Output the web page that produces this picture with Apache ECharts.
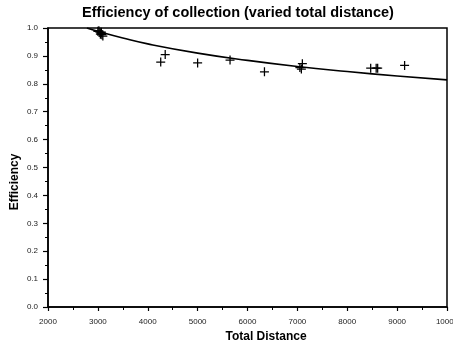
<!DOCTYPE html>
<html>
<head>
<meta charset="utf-8">
<script src="https://cdn.jsdelivr.net/npm/echarts@6/dist/echarts.min.js"></script>
<style>
  html, body { margin: 0; padding: 0; background: #fff; }
  #chart { width: 453px; height: 349px; }
</style>
</head>
<body>
<div id="chart"></div>
<script>
// Measured runs: total distance vs. collection efficiency
const distances = [3000, 3020, 3040, 3050, 3060, 3070, 3080, 3100,
                   4260, 4350, 5000, 5650, 6340, 7050, 7080, 7100,
                   8470, 8580, 8610, 9150];
const efficiencies = [0.988, 0.990, 0.985, 0.978, 0.982, 0.985, 0.976, 0.971,
                      0.878, 0.905, 0.875, 0.885, 0.843, 0.858, 0.853, 0.872,
                      0.856, 0.856, 0.856, 0.866];

// Fitted trend curve
const fitDistance = [2780, 3000, 3500, 4000, 5000, 6000, 7000, 8000, 9000, 10000];
const fitEfficiency = [1.0, 0.988, 0.964, 0.943, 0.910, 0.884, 0.862, 0.844, 0.828, 0.814];

const xTicks = [2000, 3000, 4000, 5000, 6000, 7000, 8000, 9000, 10000];
const yTicks = [0.0, 0.1, 0.2, 0.3, 0.4, 0.5, 0.6, 0.7, 0.8, 0.9, 1.0];

const font = '"Liberation Sans", Arial, Helvetica, sans-serif';
const plus = 'path://M4.3,0H5.7V4.3H10V5.7H5.7V10H4.3V5.7H0V4.3H4.3Z';

const chart = echarts.init(document.getElementById('chart'), null, { renderer: 'canvas' });

chart.setOption({
  animation: false,
  backgroundColor: '#fff',
  grid: {
    left: 48, right: 6, top: 28, bottom: 42,
    containLabel: false, outerBoundsMode: 'none',
    show: true, borderColor: '#000', borderWidth: 1.5, backgroundColor: 'transparent'
  },
  graphic: [
    { type: 'text', x: 238, y: 5,
      style: { text: 'Efficiency of collection (varied total distance)',
               font: 'bold 14.5px ' + font, fill: '#000',
               align: 'center', verticalAlign: 'top' } },
    { type: 'text', x: 266, y: 331,
      style: { text: 'Total Distance', font: 'bold 12px ' + font, fill: '#000',
               align: 'center', verticalAlign: 'top' } },
    { type: 'text', x: 15, y: 182, rotation: Math.PI / 2,
      style: { text: 'Efficiency', font: 'bold 12px ' + font, fill: '#000',
               align: 'center', verticalAlign: 'middle' } }
  ],
  xAxis: {
    type: 'value',
    min: xTicks[0], max: xTicks[xTicks.length - 1], interval: 1000,
    axisLine: { show: true, lineStyle: { color: '#000', width: 1.5 } },
    axisTick: { show: true, length: 4, lineStyle: { color: '#000', width: 1.2 } },
    minorTick: { show: true, splitNumber: 2, length: 3, lineStyle: { color: '#000', width: 1 } },
    splitLine: { show: false },
    axisLabel: { fontSize: 8, fontFamily: font, color: '#222', margin: 11,
                 hideOverlap: false, showMaxLabel: true, showMinLabel: true,
                 formatter: v => xTicks.includes(v) ? String(v) : '' }
  },
  yAxis: {
    type: 'value',
    min: 0, max: 1, interval: 0.1,
    axisLine: { show: true, lineStyle: { color: '#000', width: 1.5 } },
    axisTick: { show: true, length: 5, lineStyle: { color: '#000', width: 1.2 } },
    minorTick: { show: true, splitNumber: 2, length: 3, lineStyle: { color: '#000', width: 1 } },
    splitLine: { show: false },
    axisLabel: { fontSize: 8, fontFamily: font, color: '#222', margin: 10,
                 formatter: v => {
                   const t = yTicks.find(k => Math.abs(k - v) < 1e-6);
                   return t === undefined ? '' : t.toFixed(1);
                 } }
  },
  series: [
    {
      type: 'line',
      data: fitDistance.map((d, i) => [d, fitEfficiency[i]]),
      smooth: true,
      showSymbol: false,
      lineStyle: { color: '#000', width: 1.6 },
      z: 2
    },
    {
      type: 'scatter',
      data: distances.map((d, i) => [d, efficiencies[i]]),
      symbol: plus,
      symbolSize: 9,
      itemStyle: { color: '#000', opacity: 1 },
      z: 3
    }
  ]
});
</script>
</body>
</html>
